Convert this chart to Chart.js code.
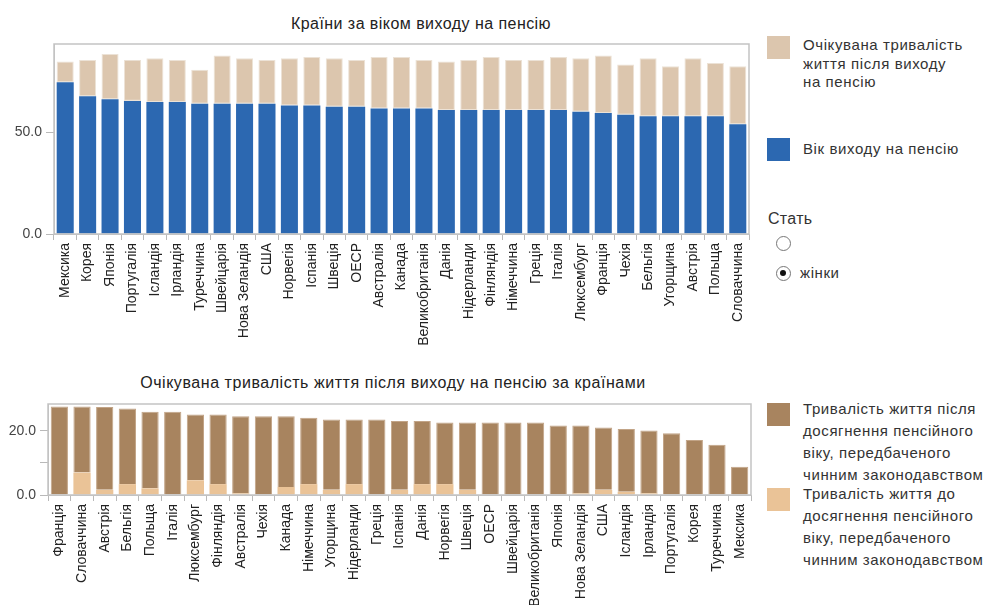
<!DOCTYPE html>
<html lang="uk">
<head>
<meta charset="utf-8">
<title>Пенсійний вік</title>
<script src="https://cdn.jsdelivr.net/npm/chart.js@4.4.1/dist/chart.umd.min.js"></script>
<style>
  html, body { margin: 0; padding: 0; background: #fff; }
  body { width: 988px; height: 605px; position: relative; overflow: hidden;
         font-family: 'Liberation Sans', Arial, sans-serif; color: #333; }
  canvas { position: absolute; left: 0; }
  .title { position: absolute; font-size: 16px; color: #222; letter-spacing: .45px;
           white-space: nowrap; transform: translateX(-50%); line-height: 18px; }
  .lg-box { position: absolute; left: 767px; width: 23px; height: 23px; }
  .lg-txt { position: absolute; left: 803px; font-size: 15px; letter-spacing: .6px; color: #333; white-space: nowrap; }
  .radio { position: absolute; left: 776px; width: 15px; height: 15px; border-radius: 50%;
           border: 1.4px solid #777; background: #fff; box-sizing: border-box; }
  .radio.on::after { content: ''; position: absolute; left: 3.3px; top: 3.3px; width: 6px; height: 6px;
           border-radius: 50%; background: #111; }
</style>
</head>
<body>

<div class="title" style="left:421px; top:15px;">Країни за віком виходу на пенсію</div>
<canvas id="top" width="760" height="368" style="top:0"></canvas>

<div class="title" style="left:393px; top:374px; letter-spacing:.55px">Очікувана тривалість життя після виходу на пенсію за країнами</div>
<canvas id="bottom" width="760" height="235" style="top:370px"></canvas>

<!-- легенда верхнього графіка -->
<div class="lg-box" style="top:36px; background:#dcc6ae"></div>
<div class="lg-txt" style="top:36px; line-height:18.5px">Очікувана тривалість<br>життя після виходу<br>на пенсію</div>
<div class="lg-box" style="top:138px; background:#2c68b1"></div>
<div class="lg-txt" style="top:140px; line-height:18px">Вік виходу на пенсію</div>

<div class="lg-txt" style="left:768px; top:210px; font-size:16px; letter-spacing:.3px">Стать</div>
<div class="radio" style="top:236px"></div>
<div class="radio on" style="top:266px"></div>
<div class="lg-txt" style="left:800px; top:264px; line-height:18px">жінки</div>

<!-- легенда нижнього графіка -->
<div class="lg-box" style="top:403px; background:#a8845f"></div>
<div class="lg-txt" style="top:398px; line-height:22px">Тривалість життя після<br>досягнення пенсійного<br>віку, передбаченого<br>чинним законодавством</div>
<div class="lg-box" style="top:488px; background:#eac397"></div>
<div class="lg-txt" style="top:483px; line-height:22px">Тривалість життя до<br>досягнення пенсійного<br>віку, передбаченого<br>чинним законодавством</div>

<script>
// ── Дані: верхній графік (вік виходу на пенсію + роки після)
const countriesTop = ['Мексика','Корея','Японія','Португалія','Ісландія','Ірландія','Туреччина','Швейцарія',
  'Нова Зеландія','США','Норвегія','Іспанія','Швеція','ОЕСР','Австралія','Канада','Великобританія','Данія',
  'Нідерланди','Фінляндія','Німеччина','Греція','Італія','Люксембург','Франція','Чехія','Бельгія','Угорщина',
  'Австрія','Польща','Словаччина'];
const retireAge = [74.4, 67.6, 66.1, 65.3, 64.7, 64.7, 63.9, 63.9, 63.9, 63.9, 63.0, 63.0, 62.4, 62.4, 61.6, 61.6,
  61.6, 60.8, 60.8, 60.8, 60.8, 60.8, 60.8, 60.0, 59.3, 58.5, 57.7, 57.7, 57.7, 57.7, 53.8];
const yearsAfter = [10.2, 17.8, 22.2, 20.1, 21.5, 20.7, 16.7, 23.7, 22.3, 21.5, 23.2, 23.8, 23.8, 23.0, 25.2, 25.2,
  23.8, 23.8, 24.6, 26.0, 24.6, 24.6, 26.0, 26.2, 28.3, 24.6, 28.5, 24.6, 28.5, 26.2, 28.5];
const ticksTop = [0, 50];

// ── Дані: нижній графік (тривалість життя до / після законного пенсійного віку)
const countriesBottom = ['Франція','Словаччина','Австрія','Бельгія','Польща','Італія','Люксембург','Фінляндія',
  'Австралія','Чехія','Канада','Німеччина','Угорщина','Нідерланди','Греція','Іспанія','Данія','Норвегія','Швеція',
  'ОЕСР','Швейцарія','Великобританія','Японія','Нова Зеландія','США','Ісландія','Ірландія','Португалія','Корея',
  'Туреччина','Мексика'];
const beforeLegal = [0, 7.0, 1.6, 3.4, 2.1, 0, 4.6, 3.4, 0.5, 0, 2.5, 3.4, 1.6, 3.4, 0, 1.6, 3.4, 3.4, 1.6,
  0, 0, 0, 0, 0.5, 1.6, 1.0, 0.5, 0, 0, 0, 0];
const afterLegal = [27.6, 20.6, 25.9, 23.6, 23.9, 26.0, 20.5, 21.7, 24.1, 24.6, 22.1, 20.7, 22.0, 20.2, 23.6, 21.5,
  19.7, 19.2, 21.0, 22.6, 22.6, 22.6, 21.7, 21.2, 19.5, 19.6, 19.6, 19.3, 17.2, 15.7, 8.8];
const ticksBottom = [0, 10, 20];

const FONT = "'Liberation Sans', Arial, sans-serif";

// ── рамка навколо області графіка
const framePlugin = {
  id: 'frame',
  afterDraw(chart) {
    const { ctx, chartArea: a } = chart;
    ctx.save();
    ctx.strokeStyle = '#c3c3c3';
    ctx.lineWidth = 1.5;
    ctx.strokeRect(a.left, a.top, a.right - a.left, a.bottom - a.top);
    ctx.restore();
  }
};

function makeChart(id, labels, datasets, o) {
  return new Chart(document.getElementById(id), {
    type: 'bar',
    data: { labels, datasets },
    plugins: [framePlugin],
    options: {
      responsive: false,
      animation: false,
      layout: { padding: { top: o.padTop, right: o.padRight, left: 0, bottom: 0 } },
      plugins: { legend: { display: false }, tooltip: { enabled: false } },
      scales: {
        x: {
          stacked: true,
          grid: { offset: true, drawOnChartArea: false, tickLength: 6, color: '#b9b9b9' },
          border: { color: '#c3c3c3' },
          ticks: { minRotation: 90, maxRotation: 90, autoSkip: false, padding: 3,
                   color: '#222', font: { family: FONT, size: 14 } },
          afterFit(s) { s.height = o.xHeight; s.paddingLeft = 0; s.paddingRight = 0; }
        },
        y: {
          stacked: true,
          min: 0, max: o.max,
          grid: { drawOnChartArea: false, tickLength: 8, color: '#b9b9b9' },
          border: { color: '#c3c3c3' },
          ticks: { padding: 4, color: '#444', font: { family: FONT, size: 14 },
                   callback: v => o.labelled.includes(v) ? v.toFixed(1) : '' },
          afterBuildTicks(s) { s.ticks = o.ticks.map(v => ({ value: v })); },
          afterFit(s) { s.width = o.yWidth; s.paddingTop = 0; s.paddingBottom = 0; }
        }
      }
    }
  });
}

makeChart('top', countriesTop, [
  { label: 'Вік виходу на пенсію', data: retireAge, backgroundColor: '#2c68b1',
    borderWidth: 0, barPercentage: 0.76, categoryPercentage: 1 },
  { label: 'Очікувана тривалість життя після виходу на пенсію', data: yearsAfter, backgroundColor: '#dcc6ae',
    borderColor: '#ece2d6', borderWidth: 1, borderSkipped: false, barPercentage: 0.76, categoryPercentage: 1 }
], { padTop: 44, padRight: 11, yWidth: 54, xHeight: 134, max: 93.2, ticks: ticksTop, labelled: [0, 50] });

makeChart('bottom', countriesBottom, [
  { label: 'Тривалість життя до досягнення пенсійного віку', data: beforeLegal, backgroundColor: '#eac397',
    borderWidth: 0, barPercentage: 0.76, categoryPercentage: 1 },
  { label: 'Тривалість життя після досягнення пенсійного віку', data: afterLegal, backgroundColor: '#a8845f',
    borderColor: '#c2a487', borderWidth: 1, borderSkipped: 'bottom', barPercentage: 0.76, categoryPercentage: 1 }
], { padTop: 34, padRight: 9, yWidth: 48, xHeight: 110, max: 28.4, ticks: ticksBottom, labelled: [0, 20] });
</script>
</body>
</html>
